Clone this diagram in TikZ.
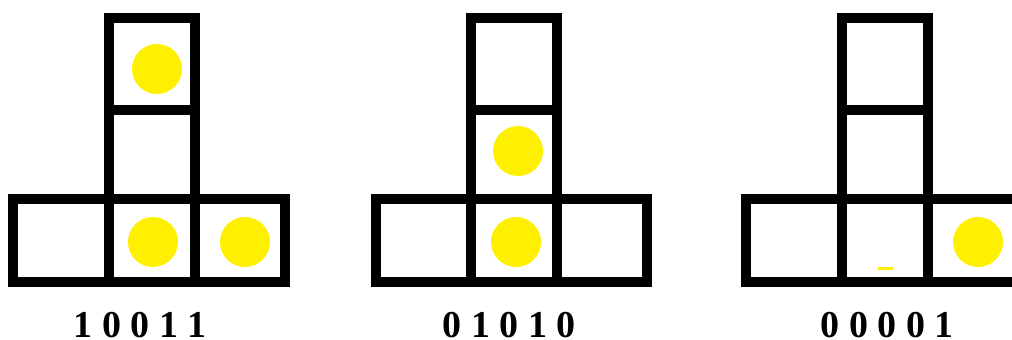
\documentclass[tikz,border=0pt]{standalone}
\usepackage{fontspec}
\setmainfont{Liberation Serif}
\usepackage{tikz}
\usetikzlibrary{positioning}
\definecolor{bulb}{RGB}{255, 240, 0}

\begin{document}
\begin{tikzpicture}[x=1pt, y=-1pt,
  cellline/.style={line width=10pt, black, line join=miter},
  lit/.style={fill=bulb},
  code/.style={font=\fontsize{38}{40}\selectfont\bfseries, inner sep=0pt}]
\useasboundingbox (0,0) rectangle (1012,340);
% first pattern
\draw[cellline] (13,199) rectangle (285,282);
\draw[cellline] (109,18) rectangle (195,199);
\draw[cellline] (109,199) -- (109,282) (195,199) -- (195,282) (109,110) -- (195,110);
\fill[lit] (157,69) circle [radius=25pt];
\fill[lit] (153,242) circle [radius=25pt];
\fill[lit] (245,242) circle [radius=25pt];
\node[code] (codeA) at (140,325) {1 0 0 1 1};
% second pattern
\draw[cellline] (376,199) rectangle (647,282);
\draw[cellline] (471,18) rectangle (557,199);
\draw[cellline] (471,199) -- (471,282) (557,199) -- (557,282) (471,110) -- (557,110);
\fill[lit] (518,151) circle [radius=25pt];
\fill[lit] (516,242) circle [radius=25pt];
\node[code] (codeB) at (509,325) {0 1 0 1 0};
% third pattern
\draw[cellline] (746,199) rectangle (1018,282);
\draw[cellline] (842,18) rectangle (928,199);
\draw[cellline] (842,199) -- (842,282) (928,199) -- (928,282) (842,110) -- (928,110);
\fill[lit] (978,242) circle [radius=25pt];
\fill[lit] (878,267) rectangle (893,270);
\node[code] (codeC) at (887,325) {0 0 0 0 1};
\end{tikzpicture}
\end{document}
